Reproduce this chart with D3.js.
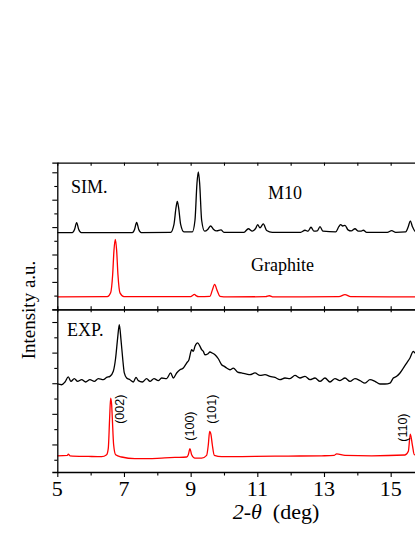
<!DOCTYPE html>
<html>
<head>
<meta charset="utf-8">
<script src="https://cdn.jsdelivr.net/npm/d3@7"></script>
<style>
  html, body { margin: 0; padding: 0; background: #fff; overflow: hidden; width: 415px; height: 537px; }
  svg { display: block; }
</style>
</head>
<body>
<div id="chart"></div>
<script>
// ---------- DATA (2-theta in deg, intensity in arbitrary panel units) ----------
// Top panel: simulated patterns
const simM10X = [5.00,5.45,5.52,5.58,5.64,5.72,7.25,7.32,7.38,7.44,7.52,8.40,8.50,8.56,8.60,8.64,8.70,8.80,9.05,9.13,9.19,9.23,9.27,9.33,9.42,9.52,9.60,9.68,9.78,9.91,10.00,10.60,10.73,10.85,10.95,11.01,11.08,11.18,11.28,11.45,12.30,12.43,12.52,12.61,12.70,12.80,12.88,12.97,13.35,13.45,13.50,13.56,13.63,13.72,13.82,13.93,14.03,14.10,14.18,14.28,14.90,15.03,15.15,15.45,15.53,15.59,15.65,15.75,16.00];
const simM10Y = [5.59,5.60,5.85,6.33,5.85,5.60,5.60,5.85,6.35,5.85,5.60,5.62,6.20,7.40,7.88,7.40,6.20,5.65,5.65,6.50,9.20,10.02,9.20,6.50,5.70,5.85,6.08,5.85,5.72,5.79,5.62,5.62,5.88,5.70,5.90,6.18,5.95,6.23,5.75,5.62,5.62,5.77,5.70,5.99,5.70,5.72,6.03,5.70,5.65,6.05,6.18,6.08,6.13,5.80,5.72,5.88,5.70,5.70,5.77,5.62,5.62,5.74,5.62,5.65,6.05,6.45,6.05,5.65,5.60];

const simGraphiteX = [5.00,6.50,6.60,6.66,6.70,6.74,6.78,6.82,6.88,7.00,9.00,9.07,9.11,9.16,9.25,9.58,9.65,9.72,9.79,9.88,10.10,11.25,11.36,11.48,13.45,13.63,13.80,16.00];
const simGraphiteY = [0.90,0.92,1.20,2.50,4.30,5.11,4.30,2.50,1.20,0.93,0.92,1.03,1.09,1.00,0.92,0.95,1.40,1.82,1.40,0.95,0.90,0.92,0.99,0.91,0.92,1.07,0.92,0.91];

// Bottom panel: experimental patterns
const expM10X = [5.00,5.13,5.23,5.33,5.41,5.51,5.61,5.73,5.85,5.98,6.11,6.23,6.38,6.48,6.58,6.68,6.75,6.81,6.86,6.91,6.96,7.01,7.08,7.18,7.28,7.36,7.43,7.55,7.68,7.78,7.90,8.03,8.13,8.28,8.40,8.48,8.58,8.68,8.78,8.88,8.95,9.03,9.08,9.13,9.21,9.28,9.33,9.38,9.43,9.51,9.58,9.65,9.73,9.83,9.93,10.01,10.08,10.18,10.28,10.41,10.53,10.68,10.78,10.93,11.08,11.23,11.38,11.53,11.68,11.83,11.98,12.13,12.28,12.43,12.58,12.73,12.88,13.03,13.18,13.33,13.48,13.63,13.78,13.93,14.08,14.23,14.38,14.53,14.68,14.83,14.98,15.08,15.18,15.28,15.38,15.48,15.58,15.68,15.73,15.85,16.00];
const expM10Y = [4.95,4.90,5.08,5.41,5.12,5.30,5.12,5.23,5.08,5.23,5.12,5.30,5.23,5.38,5.45,5.78,6.65,7.95,8.83,7.85,6.65,5.67,5.34,5.23,5.08,5.38,5.17,5.08,5.30,5.12,5.30,5.17,5.34,5.30,5.67,5.34,5.67,5.88,5.99,6.32,6.54,7.19,7.08,7.41,7.63,7.41,7.19,7.08,6.86,6.91,7.04,6.97,6.86,6.60,6.21,6.10,5.99,5.88,5.99,5.73,5.67,5.60,5.56,5.67,5.51,5.56,5.45,5.38,5.23,5.34,5.30,5.51,5.34,5.45,5.23,5.34,5.12,5.34,5.08,5.30,5.17,5.34,5.12,5.30,5.17,5.01,5.23,5.12,4.95,4.95,5.01,5.34,5.45,5.67,5.99,6.32,6.65,7.08,6.97,7.40,7.80];

const expGraphiteX = [5.00,5.30,5.33,5.38,5.93,6.33,6.48,6.53,6.57,6.60,6.63,6.65,6.69,6.75,6.93,7.33,7.73,8.13,8.53,8.88,8.93,8.98,9.03,9.13,9.33,9.48,9.53,9.57,9.61,9.65,9.71,9.93,10.93,11.93,12.93,13.30,13.38,13.63,14.43,15.43,15.53,15.59,15.65,15.71,16.00];
const expGraphiteY = [0.26,0.28,0.37,0.26,0.22,0.20,0.33,0.76,2.73,4.03,3.60,2.73,0.98,0.33,0.18,0.07,0.07,0.11,0.15,0.18,0.33,0.72,0.33,0.11,0.11,0.29,0.98,1.85,1.64,0.98,0.29,0.20,0.22,0.24,0.26,0.28,0.39,0.29,0.26,0.31,0.55,1.68,0.98,0.33,0.26];

// Peak (hkl) labels for experimental graphite
const hklLabels = ["(002)", "(100)", "(101)", "(110)"];
const hklX = [6.86, 8.98, 9.63, 15.37];
const hklY = [3.3, 2.2, 3.3, 2.1];

// Axis ticks
const xMajorTicks = [5, 7, 9, 11, 13, 15];
const xAllTicks = [5, 6, 7, 8, 9, 10, 11, 12, 13, 14, 15, 16];
const topYTicks = [1, 2, 3, 4, 5, 6, 7, 8, 9, 10];
const botYTicks = [0, 1, 2, 3, 4, 5, 6, 7, 8, 9];

// ---------- LAYOUT ----------
const W = 430, H = 537;
const left = 57.3, right = 424;
const topY0 = 162.7, midY = 309.3, botY = 472;

const svg = d3.select("#chart").append("svg").attr("width", W).attr("height", H);

const x = d3.scaleLinear().domain([5, 16]).range([left, right]);
const yTop = d3.scaleLinear().domain([0, 10.7]).range([midY, topY0]);
const yBot = d3.scaleLinear().domain([-0.8, 9.83]).range([botY, midY]);

const serif = "'Liberation Serif', 'Times New Roman', serif";
const sans = "'Liberation Sans', Arial, sans-serif";

// ---------- CURVES ----------
function drawCurve(xs, ys, yScale, color) {
  const pts = xs.map((v, i) => [v, ys[i]]);
  const line = d3.line().x(d => x(d[0])).y(d => yScale(d[1])).curve(d3.curveMonotoneX);
  svg.append("path").datum(pts)
    .attr("d", line).attr("fill", "none")
    .attr("stroke", color).attr("stroke-width", 1.3)
    .attr("stroke-linejoin", "round");
}
drawCurve(simM10X, simM10Y, yTop, "#000");
drawCurve(simGraphiteX, simGraphiteY, yTop, "#ff0000");
drawCurve(expM10X, expM10Y, yBot, "#000");
drawCurve(expGraphiteX, expGraphiteY, yBot, "#ff0000");

// ---------- AXES ----------
function styleAxis(g) {
  g.selectAll("path.domain").attr("stroke", "#000").attr("stroke-width", 1.3);
  g.selectAll(".tick line").attr("stroke", "#000").attr("stroke-width", 1.1);
  g.selectAll(".tick text").remove();
}
// top border, ticks inward
svg.append("g").attr("transform", `translate(0,${topY0})`)
  .call(d3.axisBottom(x).tickValues(xAllTicks).tickSize(3).tickSizeOuter(0)).call(styleAxis);
// panel boundary: ticks into both panels
svg.append("g").attr("transform", `translate(0,${midY})`)
  .call(d3.axisTop(x).tickValues(xAllTicks).tickSize(3).tickSizeOuter(0)).call(styleAxis);
svg.append("g").attr("transform", `translate(0,${midY})`)
  .call(d3.axisBottom(x).tickValues(xAllTicks).tickSize(3).tickSizeOuter(0)).call(styleAxis);
// bottom axis
const bottomAxis = svg.append("g").attr("transform", `translate(0,${botY})`)
  .call(d3.axisBottom(x).tickValues(xAllTicks).tickSize(4).tickSizeOuter(0));
styleAxis(bottomAxis);
bottomAxis.selectAll(".tick line").attr("y2", d => xMajorTicks.includes(d) ? 5 : 3.5);

// left axes
const leftTop = svg.append("g").attr("transform", `translate(${left},0)`)
  .call(d3.axisLeft(yTop).tickValues(topYTicks).tickSizeOuter(0).tickSize(5));
styleAxis(leftTop);
leftTop.selectAll(".tick line").attr("x2", d => d % 2 === 0 ? -5 : -3);
const leftBot = svg.append("g").attr("transform", `translate(${left},0)`)
  .call(d3.axisLeft(yBot).tickValues(botYTicks).tickSizeOuter(0).tickSize(5));
styleAxis(leftBot);
leftBot.selectAll(".tick line").attr("x2", d => d % 2 === 1 ? -5 : -3);

// x tick labels
svg.append("g").selectAll("text").data(xMajorTicks).join("text")
  .attr("x", d => x(d)).attr("y", 496)
  .attr("text-anchor", "middle")
  .attr("font-family", serif).attr("font-size", 22)
  .text(d => d);

// axis titles
const xt = svg.append("text").attr("x", 276).attr("y", 519)
  .attr("text-anchor", "middle").attr("font-family", serif).attr("font-size", 22);
xt.append("tspan").attr("font-style", "italic").text("2-\u03B8");
xt.append("tspan").text("\u00A0 (deg)");

svg.append("text").attr("transform", "translate(35,310) rotate(-90)")
  .attr("text-anchor", "middle").attr("font-family", serif).attr("font-size", 19)
  .text("Intensity a.u.");

// panel labels
function label(txt, px, py) {
  svg.append("text").attr("x", px).attr("y", py)
    .attr("font-family", serif).attr("font-size", 18).text(txt);
}
label("SIM.", 71, 192.5);
label("M10", 268, 198.5);
label("Graphite", 251, 270.5);
label("EXP.", 67, 336);

// hkl labels (rotated, centred on their anchor)
svg.append("g").selectAll("text").data(hklLabels).join("text")
  .attr("transform", (d, i) => `translate(${x(hklX[i])},${yBot(hklY[i])}) rotate(-90)`)
  .attr("text-anchor", "middle")
  .attr("dy", "0.36em")
  .attr("font-family", sans).attr("font-size", 12.5)
  .text(d => d);
</script>
</body>
</html>
